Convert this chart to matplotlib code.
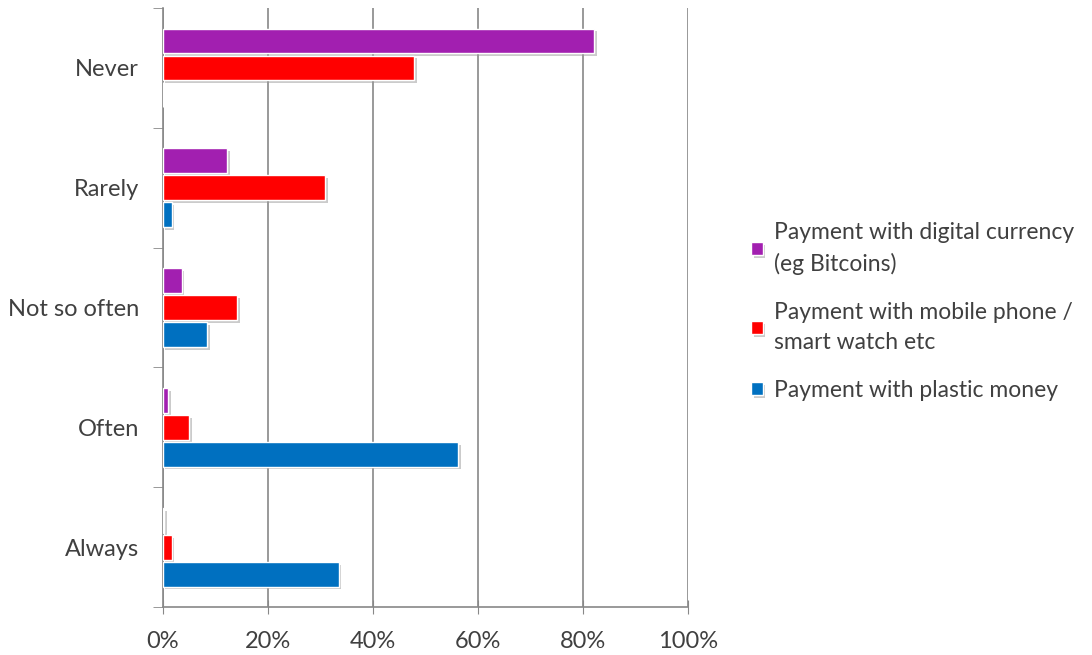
import numpy as np
import matplotlib.pyplot as plt
import matplotlib.patheffects as pe
from matplotlib.ticker import PercentFormatter

categories = ['Never', 'Rarely', 'Not so often', 'Often', 'Always']
digital = [82.1, 12.2, 3.6, 1.0, 0.3]
mobile = [47.8, 30.9, 14.1, 5.0, 1.7]
plastic = [0.0, 1.7, 8.4, 56.2, 33.5]

series = [
    ('Payment with digital currency\n(eg Bitcoins)', digital, '#A21FB0'),
    ('Payment with mobile phone /\nsmart watch etc', mobile, '#FF0000'),
    ('Payment with plastic money', plastic, '#0070C0'),
]

plt.rcParams['font.family'] = ['Lato', 'DejaVu Sans']
txt = '#404040'
fs = 17

fig = plt.figure(figsize=(10.92, 6.55), dpi=100)
ax = fig.add_axes([0.149, 0.073, 0.481, 0.915])

y = np.arange(len(categories))
pitch = 0.225
h = 0.205
shadow = [pe.SimplePatchShadow(offset=(2, -2), shadow_rgbFace='#999999', alpha=0.5), pe.Normal()]
for i, (lab, vals, col) in enumerate(series):
    ax.barh(y + (i - 1) * pitch, vals, height=h, color=col, edgecolor='white',
            linewidth=1, label=lab, zorder=3, path_effects=shadow)

ax.set_ylim(len(categories) - 0.5, -0.5)
ax.set_xlim(0, 100)
ax.set_xticks(np.arange(0, 101, 20))
ax.xaxis.set_major_formatter(PercentFormatter(decimals=0))
ax.set_yticks(y)
ax.set_yticklabels(categories)
ax.set_yticks(np.arange(-0.5, len(categories)), minor=True)
ax.tick_params(axis='y', which='major', length=0, pad=17, labelsize=fs, labelcolor=txt)
ax.tick_params(axis='y', which='minor', length=7, color='#888888', direction='out')
ax.tick_params(axis='x', length=10, direction='inout', color='#888888', labelsize=fs,
               labelcolor=txt, pad=12)
ax.grid(axis='x', color='#888888', linewidth=1.2, zorder=0)
for s in ['top', 'right']:
    ax.spines[s].set_visible(False)
for s in ['left', 'bottom']:
    ax.spines[s].set_color('#888888')
    ax.spines[s].set_linewidth(1.2)

leg = fig.legend(loc='upper left', bbox_to_anchor=(0.669, 0.692), frameon=False,
                 fontsize=16.5, labelcolor=txt, handlelength=0.5, handleheight=0.5,
                 handletextpad=0.5, labelspacing=1.2)
for t in leg.get_texts():
    t.set_linespacing(1.5)

fig.savefig('out.png', dpi=100)
